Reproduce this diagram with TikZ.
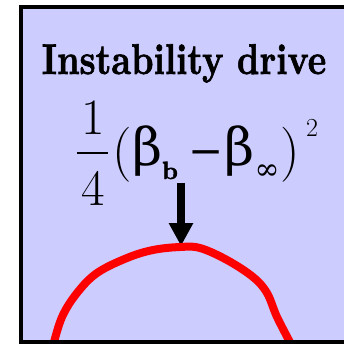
\documentclass[tikz,border=0pt]{standalone}
\usepackage{fontspec}
\newfontfamily\greekfont{DejaVu Serif}
\newfontface\titlefont{lmroman10-bold.otf}[FakeBold=1.5]
\usetikzlibrary{arrows.meta}
\definecolor{panelblue}{HTML}{CCCCFF}

\begin{document}
\begin{tikzpicture}[x=1pt, y=-1pt,
    glyph/.style={inner sep=0pt, anchor=base},
    drive/.style={draw=red, line width=8pt, line join=round}]
    \useasboundingbox (0,0) rectangle (343,344);
    \fill[panelblue] (21,7) rectangle (352,342);
    % title
    \node[glyph, font=\titlefont\fontsize{43}{43}\selectfont] (title) at (184,74) {\scalebox{0.82}[1]{Instability drive}};
    % formula 1/4 (beta_b - beta_inf)^2
    \node[glyph, font=\fontsize{51}{51}\selectfont] (num) at (93,135) {1};
    \node[glyph, font=\fontsize{51}{51}\selectfont] (den) at (93,205) {4};
    \draw[line width=2.5pt] (77,153) -- (108,153);
    \node[glyph, font=\fontsize{55}{55}\selectfont] (lpar) at (122,169) {(};
    \node[glyph, font=\greekfont\fontsize{52}{52}\selectfont] (beta1) at (148,166) {β};
    \node[glyph, font=\titlefont\fontsize{25}{25}\selectfont] (bsub) at (170,179) {b};
    \node[glyph, font=\greekfont\fontsize{42}{42}\selectfont] (minus) at (206,166) {−};
    \node[glyph, font=\greekfont\fontsize{52}{52}\selectfont] (beta2) at (240,166) {β};
    \node[glyph, font=\greekfont\fontsize{30}{30}\selectfont] (isub) at (267,179) {∞};
    \node[glyph, font=\fontsize{55}{55}\selectfont] (rpar) at (290,169) {)};
    \node[glyph, font=\fontsize{26}{26}\selectfont] (sq) at (312,137) {2};
    % arrow onto the curve
    \coordinate (tail) at (181,183);
    \coordinate (peak) at (181,246);
    \draw[line width=8pt, -{Triangle[length=23pt, width=23pt]}] (tail) -- (peak);
    \draw[drive] plot[smooth, tension=0.6] coordinates {(53,346) (62,317) (77,293) (97,273) (127,258) (153,250) (180,247) (200,248) (227,260) (253,277) (267,293) (277,317) (292,346)};
    \draw[line width=4pt] (21,7) rectangle (352,342);
\end{tikzpicture}
\end{document}
